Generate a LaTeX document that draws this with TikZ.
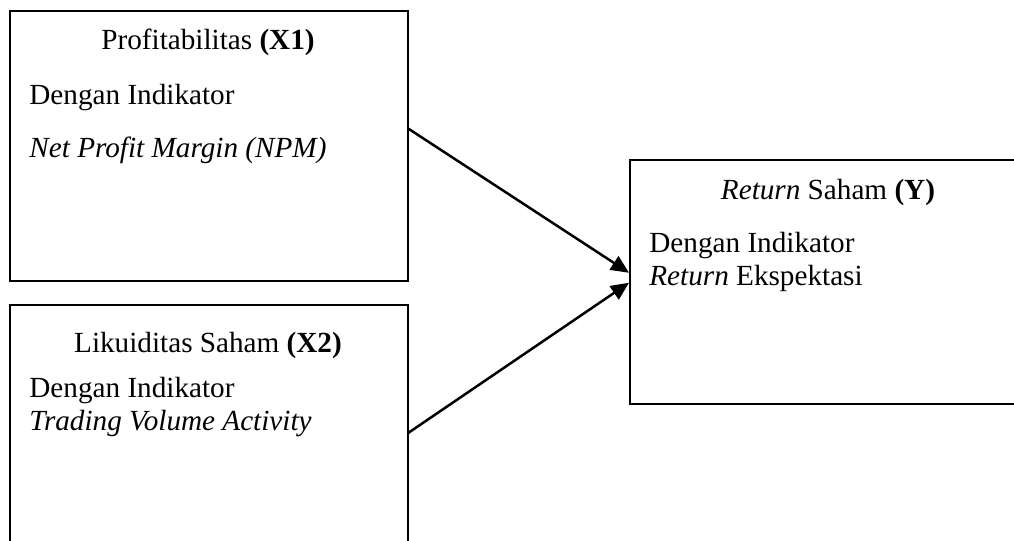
\documentclass[tikz,border=0pt]{standalone}
\usepackage{fontspec}
\setmainfont{Liberation Serif}
\usetikzlibrary{arrows.meta}
\begin{document}
\begin{tikzpicture}[x=0.5pt, y=-0.5pt,
          every node/.style={font=\fontsize{14.6}{17}\selectfont},
          varbox/.style={draw, line width=0.75pt, rectangle, inner sep=0pt, anchor=north west, minimum width=199pt},
          title/.style={anchor=base, inner sep=0pt},
          txt/.style={anchor=base west, inner sep=0pt},
          link/.style={line width=1.25pt, -{Triangle[length=9pt,width=8pt]}}]
          \useasboundingbox (0,0) rectangle (1014,541);
          \clip (0,0) rectangle (1014,541);
          % kotak variabel
          \node[varbox, minimum height=135pt] (x1) at (9,10) {};
          \node[varbox, minimum height=128pt] (x2) at (9,304) {};
          \node[varbox, minimum height=122pt] (y) at (629,159) {};
          % isi kotak
          \node[title] (x1title) at (208,49) {Profitabilitas \textbf{(X1)}};
          \node[txt] (x1ind) at (29,104) {Dengan Indikator};
          \node[txt] (x1npm) at (29,157) {\textit{Net Profit Margin (NPM)}};
          \node[title] (x2title) at (208,352) {Likuiditas Saham \textbf{(X2)}};
          \node[txt] (x2ind) at (29,397) {Dengan Indikator};
          \node[txt] (x2tva) at (29,430) {\textit{Trading Volume Activity}};
          \node[title] (ytitle) at (828,199) {\textit{Return} Saham \textbf{(Y)}};
          \node[txt] (yind) at (649,252) {Dengan Indikator};
          \node[txt] (yret) at (649,285) {\textit{Return} Ekspektasi};
          % panah
          \draw[link] ([yshift=8.5pt]x1.east) -- ([yshift=4.5pt]y.west);
          \draw[link] (x2.east) -- ([yshift=-0.5pt]y.west);
\end{tikzpicture}
\end{document}
